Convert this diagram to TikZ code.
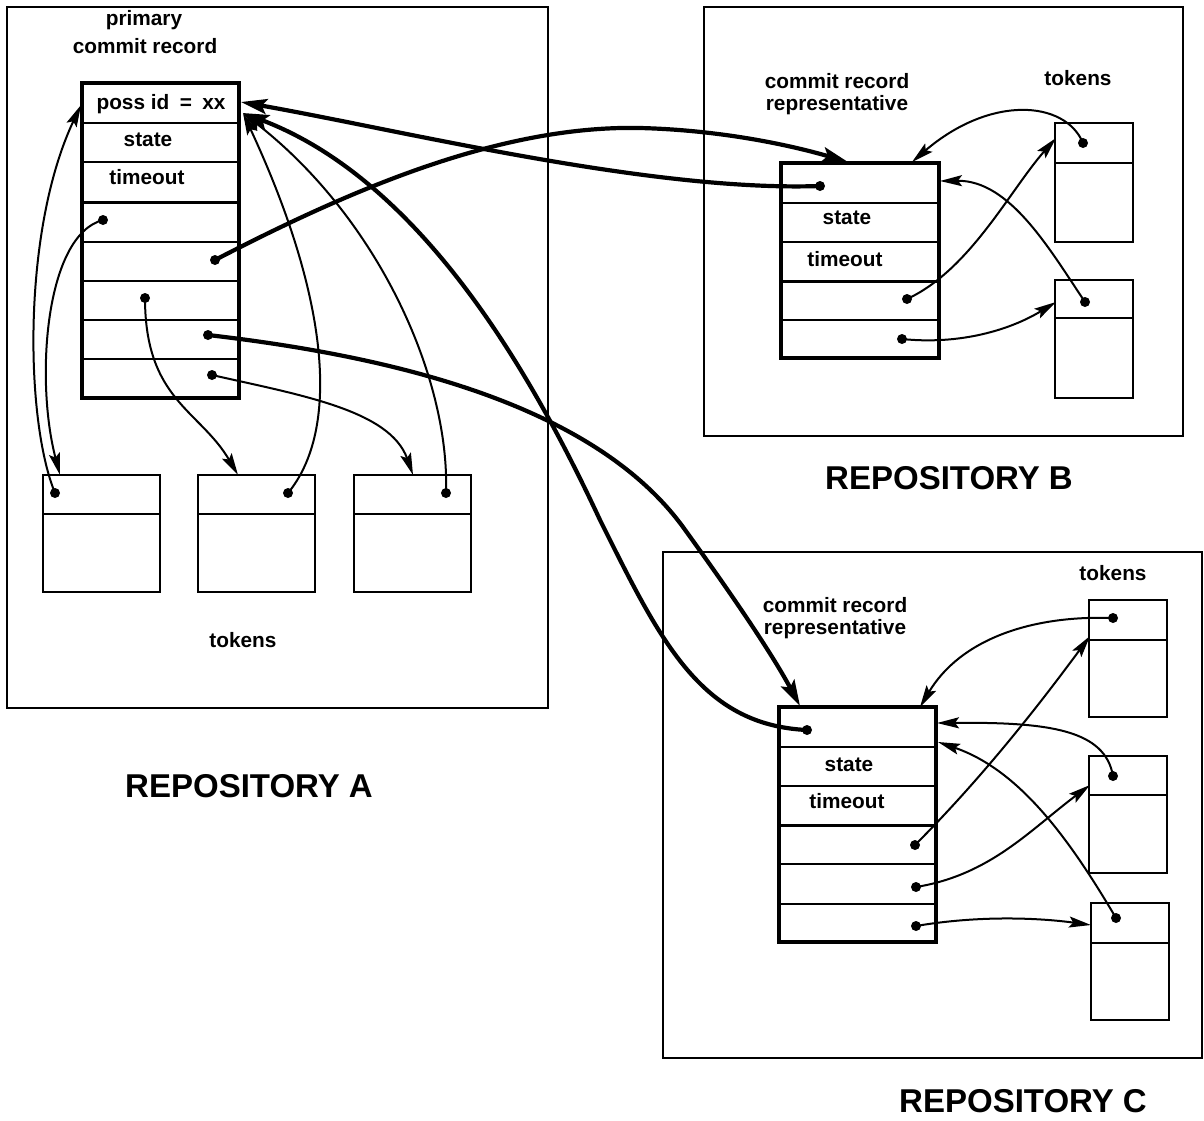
\documentclass[tikz,border=0pt]{standalone}
\usepackage{fontspec}
\setmainfont{Liberation Sans}
\usetikzlibrary{arrows.meta}
\begin{document}
\begin{tikzpicture}[x=1pt,y=-1pt,
  repo/.style={draw, line width=1.2pt},
  recbox/.style={draw, line width=3.4pt},
  rowline/.style={line width=1.5pt},
  sepline/.style={line width=3pt},
  tokbox/.style={draw, line width=2pt},
  pdot/.style={circle, fill, inner sep=0pt, minimum size=10pt},
  thinlink/.style={line width=2pt, line cap=round, -{Stealth[length=22pt,width=11pt,inset=4pt]}},
  thicklink/.style={line width=4.2pt, line cap=round, -{Stealth[length=26pt,width=15pt,inset=5pt]}},
  lbl/.style={font=\fontsize{20.8}{24}\selectfont\bfseries, inner sep=0pt},
  big/.style={font=\fontsize{33}{36}\selectfont\bfseries, inner sep=0pt}]
\useasboundingbox (0,0) rectangle (1204,1120);
\fill[white] (0,0) rectangle (1204,1120);

% ---------------- repositories ----------------
\draw[repo] (7,7) rectangle (548,708);
\draw[repo] (704,7) rectangle (1183,436);
\draw[repo] (663,552) rectangle (1202,1058);

\node[big] (labA) at (249,786) {REPOSITORY A};
\node[big] (labB) at (949,478) {REPOSITORY B};
\node[big] (labC) at (1023,1101) {REPOSITORY C};

% ---------------- primary commit record (A) ----------------
\node[lbl] (primA) at (144,20) {primary};
\node[lbl] (crA) at (145,46) {commit record};
\foreach \yy in {123,162,242,281,320,359} \draw[rowline] (82,\yy) -- (239,\yy);
\draw[sepline] (82,202) -- (239,202);
\draw[recbox] (82,83) rectangle (239,398);
\node[lbl] (possA) at (161,104) {poss id\enspace=\enspace xx};
\node[lbl] (stA) at (148,140) {state};
\node[lbl] (toA) at (147,177) {timeout};

% tokens of A
\foreach \xx/\nm in {43/1,198/2,354/3}{
  \draw[tokbox] (\xx,475) rectangle ++(117,117);
  \draw[tokbox] (\xx,514) -- ++(117,0);
}
\node[lbl] (tokA) at (243,640) {tokens};

% ---------------- representative (B) ----------------
\node[lbl] (crB1) at (837,81) {commit record};
\node[lbl] (crB2) at (837,105) {representative};
\node[lbl] (tokB) at (1078,78) {tokens};
\foreach \yy in {203,242,320} \draw[rowline] (781,\yy) -- (939,\yy);
\draw[sepline] (781,281) -- (939,281);
\draw[recbox] (781,163) rectangle (939,358);
\node[lbl] (stB) at (847,218) {state};
\node[lbl] (toB) at (845,259) {timeout};
\draw[tokbox] (1055,123) rectangle (1133,242);
\draw[tokbox] (1055,163) -- (1133,163);
\draw[tokbox] (1055,280) rectangle (1133,398);
\draw[tokbox] (1055,318) -- (1133,318);

% ---------------- representative (C) ----------------
\node[lbl] (crC1) at (835,605) {commit record};
\node[lbl] (crC2) at (835,629) {representative};
\node[lbl] (tokC) at (1113,573) {tokens};
\foreach \yy in {747,786,864,904} \draw[rowline] (779,\yy) -- (936,\yy);
\draw[sepline] (779,825) -- (936,825);
\draw[recbox] (779,707) rectangle (936,942);
\node[lbl] (stC) at (849,765) {state};
\node[lbl] (toC) at (847,801) {timeout};
\draw[tokbox] (1089,600) rectangle (1167,717);
\draw[tokbox] (1089,640) -- (1167,640);
\draw[tokbox] (1089,756) rectangle (1167,873);
\draw[tokbox] (1089,795) -- (1167,795);
\draw[tokbox] (1091,903) rectangle (1169,1020);
\draw[tokbox] (1091,943) -- (1169,943);

% ---------------- dots ----------------
\node[pdot] (a4) at (103,220) {};
\node[pdot] (a5) at (215,260) {};
\node[pdot] (a6) at (145,298) {};
\node[pdot] (a7) at (208,335) {};
\node[pdot] (a8) at (212,375) {};
\node[pdot] (ta1) at (55,493) {};
\node[pdot] (ta2) at (288,493) {};
\node[pdot] (ta3) at (446,493) {};
\node[pdot] (b1) at (820,186) {};
\node[pdot] (b4) at (907,299) {};
\node[pdot] (b5) at (902,339) {};
\node[pdot] (tb1) at (1083,143) {};
\node[pdot] (tb2) at (1085,302) {};
\node[pdot] (c1) at (807,730) {};
\node[pdot] (c4) at (915,845) {};
\node[pdot] (c5) at (916,887) {};
\node[pdot] (c6) at (916,926) {};
\node[pdot] (tc1) at (1113,618) {};
\node[pdot] (tc2) at (1113,776) {};
\node[pdot] (tc3) at (1116,918) {};

% ---------------- arrow targets ----------------
\coordinate (possL) at (81,105);
\coordinate (possR1) at (241,102);
\coordinate (possR2) at (243,113);
\coordinate (tA1top) at (60,475);
\coordinate (tA2top) at (238,475);
\coordinate (tA3top) at (413,475);
\coordinate (recBtopL) at (848,162);
\coordinate (recBtopR) at (912,162);
\coordinate (recBright) at (940,181);
\coordinate (tB1left) at (1056,138);
\coordinate (tB2left) at (1056,302);
\coordinate (recCtopL) at (800,706);
\coordinate (recCtopR) at (920,707);
\coordinate (recCright1) at (937,723);
\coordinate (recCright2) at (938,742);
\coordinate (tC1left) at (1090,636);
\coordinate (tC2left) at (1090,785);
\coordinate (tC3left) at (1091,925);

% ---------------- connectors in A ----------------
\draw[thinlink] (ta1.center) .. controls (25,420) and (22,230) .. (possL);
\draw[thinlink] (a4.center) .. controls (45,235) and (35,380) .. (tA1top);
\draw[thinlink] (a6.center) .. controls (145,400) and (200,410) .. (tA2top);
\draw[thinlink] (ta2.center) .. controls (340,430) and (330,300) .. (possR2);
\draw[thinlink] (a8.center) .. controls (300,395) and (390,410) .. (tA3top);
\draw[thinlink] (ta3.center) .. controls (450,380) and (380,220) .. (possR2);

% ---------------- thick connectors between repositories ----------------
\draw[thicklink] (b1.center) .. controls (650,192) and (400,130) .. (possR1);
\draw[thicklink] (a5.center) .. controls (350,190) and (500,125) .. (640,128)
   .. controls (720,130) and (790,145) .. (recBtopL);
\draw[thicklink] (c1.center) .. controls (700,725) and (660,640) .. (600,520)
   .. controls (530,370) and (420,180) .. (possR2);
\draw[thicklink] (a7.center) .. controls (380,355) and (590,400) .. (683,527)
   .. controls (725,585) and (770,650) .. (recCtopL);

% ---------------- connectors in B ----------------
\draw[thinlink] (tb1.center) .. controls (1065,100) and (990,95) .. (recBtopR);
\draw[thinlink] (b4.center) .. controls (970,270) and (1010,190) .. (tB1left);
\draw[thinlink] (tb2.center) .. controls (1050,250) and (1010,180) .. (recBright);
\draw[thinlink] (b5.center) .. controls (960,345) and (1010,330) .. (tB2left);

% ---------------- connectors in C ----------------
\draw[thinlink] (tc1.center) .. controls (1030,615) and (960,640) .. (recCtopR);
\draw[thinlink] (c4.center) .. controls (990,770) and (1050,690) .. (tC1left);
\draw[thinlink] (tc2.center) .. controls (1105,730) and (1050,722) .. (recCright1);
\draw[thinlink] (c5.center) .. controls (990,875) and (1030,830) .. (tC2left);
\draw[thinlink] (tc3.center) .. controls (1070,840) and (1020,770) .. (recCright2);
\draw[thinlink] (c6.center) .. controls (980,915) and (1040,918) .. (tC3left);
\end{tikzpicture}
\end{document}
